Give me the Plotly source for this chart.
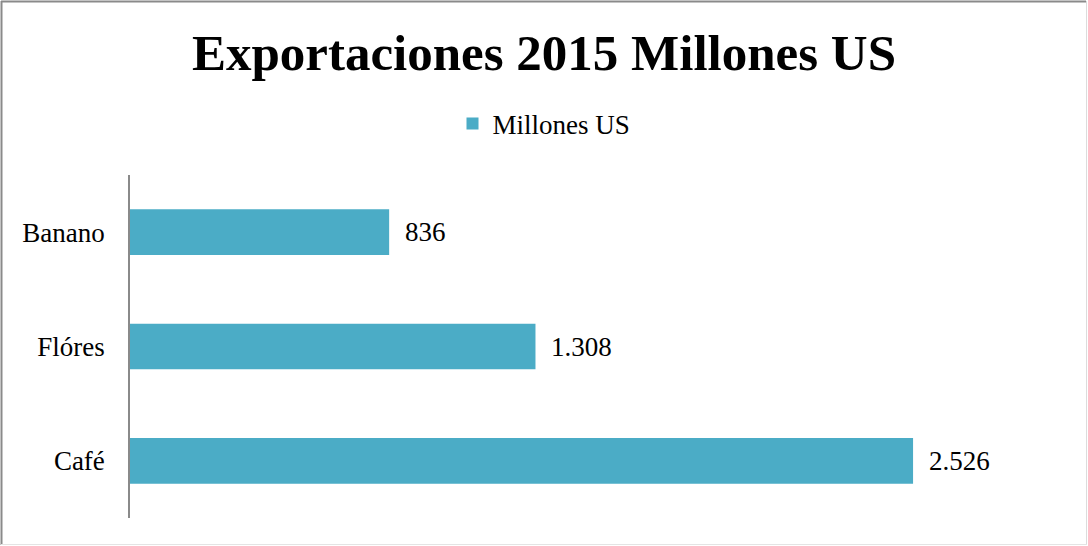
import plotly.graph_objects as go

categories = ["Café", "Flóres", "Banano"]
values = [2526, 1308, 836]
series_name = "Millones US"
title_text = "Exportaciones 2015 Millones US"

FONT = "Liberation Serif"
BAR_COLOR = "#4BACC6"

W, H = 1088, 546
L, R, T, B = 130, 28, 175, 28
pw, ph = W - L - R, H - T - B

def px_to_paper_x(px):
    return (px - L) / pw

def px_to_paper_y(py):
    return (H - B - py) / ph

fig = go.Figure()
fig.add_trace(go.Bar(
    x=values, y=categories, orientation="h", name=series_name,
    marker=dict(color=BAR_COLOR, line=dict(width=0)),
    showlegend=True,
))

def fmt(v):
    return f"{v:,}".replace(",", ".")

for c, v in zip(categories, values):
    fig.add_annotation(x=v, y=c, xref="x", yref="y", text=fmt(v),
                       showarrow=False, xanchor="left", yanchor="middle",
                       xshift=14, font=dict(family=FONT, size=27, color="#000"))

# chart border
fig.add_shape(type="line", xref="paper", yref="paper",
              x0=px_to_paper_x(1), x1=px_to_paper_x(1086),
              y0=px_to_paper_y(1.5), y1=px_to_paper_y(1.5),
              line=dict(color="#8a8a8a", width=2))
fig.add_shape(type="line", xref="paper", yref="paper",
              x0=px_to_paper_x(1.5), x1=px_to_paper_x(1.5),
              y0=px_to_paper_y(1), y1=px_to_paper_y(545),
              line=dict(color="#8a8a8a", width=2))
fig.add_shape(type="line", xref="paper", yref="paper",
              x0=px_to_paper_x(1086.5), x1=px_to_paper_x(1086.5),
              y0=px_to_paper_y(1), y1=px_to_paper_y(545),
              line=dict(color="#dcdcdc", width=1))
fig.add_shape(type="line", xref="paper", yref="paper",
              x0=px_to_paper_x(1), x1=px_to_paper_x(1087),
              y0=px_to_paper_y(544.5), y1=px_to_paper_y(544.5),
              line=dict(color="#e4e4e4", width=1))

fig.update_layout(
    width=W, height=H,
    margin=dict(l=L, r=R, t=T, b=B, autoexpand=False),
    paper_bgcolor="white", plot_bgcolor="white",
    bargap=0.6,
    title=dict(text=f"<b>{title_text}</b>", x=0.5, xref="container",
               y=1 - 52 / H, yref="container", xanchor="center", yanchor="middle",
               font=dict(family=FONT, size=51, color="#000")),
    legend=dict(orientation="h", x=px_to_paper_x(544), xanchor="center",
                y=px_to_paper_y(124), yanchor="middle",
                font=dict(family=FONT, size=27, color="#000"),
                itemwidth=30, bgcolor="rgba(0,0,0,0)"),
    xaxis=dict(range=[0, 3000], showticklabels=False, showgrid=False,
               zeroline=False, showline=False, fixedrange=True),
    yaxis=dict(showline=True, linecolor="#8a8a8a", linewidth=1.5,
               showgrid=False, zeroline=False, ticks="", automargin=False,
               ticklabelstandoff=18,
               tickfont=dict(family=FONT, size=27, color="#000")),
)

fig.write_html("out.html", config={"displayModeBar": False},
               post_script="document.body.style.margin='0';document.body.style.padding='0';")
